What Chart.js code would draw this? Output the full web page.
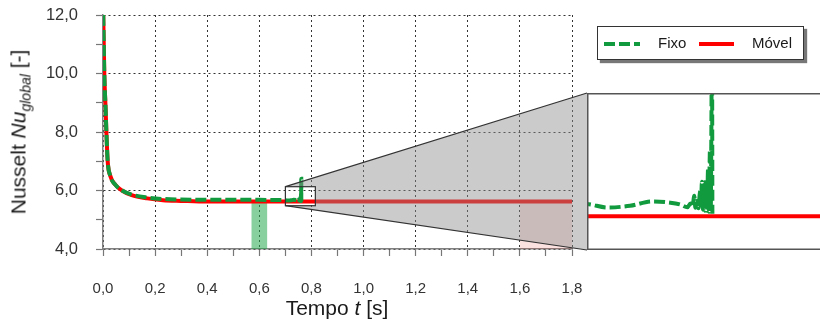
<!DOCTYPE html>
<html>
<head>
<meta charset="utf-8">
<script src="https://cdn.jsdelivr.net/npm/chart.js@4"></script>
<style>
    html, body { margin: 0; padding: 0; background: #fff; overflow: hidden; }
    #wrap { position: relative; width: 820px; height: 324px; overflow: hidden;
            font-family: "Liberation Sans", Arial, sans-serif; color: #1a1a1a; }
    #main { position: absolute; left: 0; top: 0; }
    #inset { position: absolute; left: 587px; top: 93px; }
    .ytitle { position: absolute; left: 20px; top: 132px; line-height: 1;
              transform: translate(-50%, -50%) rotate(-90deg); font-size: 21px; white-space: nowrap; }
    .xtitle { position: absolute; left: 337px; top: 307px; line-height: 1;
              transform: translate(-50%, -50%); font-size: 21px; white-space: nowrap; }
    .ytitle sub { font-size: 14px; vertical-align: -5px; }
    .legend { position: absolute; left: 597px; top: 26px; width: 205px; height: 32px;
              border: 1px solid #333; background: #fff; box-shadow: 3px 3px 1px #777; font-size: 15px; }
    .legend svg { position: absolute; top: 14px; }
    .legend span { position: absolute; top: 8px; line-height: 1; }
</style>
</head>
<body>
<div id="wrap">
    <canvas id="main" width="820" height="324"></canvas>
    <canvas id="inset" width="236" height="157"></canvas>
    <div class="ytitle">Nusselt <i>Nu</i><sub><i>global</i></sub> [-]</div>
    <div class="xtitle">Tempo <i>t</i> [s]</div>
    <div class="legend">
        <svg style="left:6px" width="36" height="6"><line x1="0" y1="3" x2="36" y2="3" stroke="#129a3e" stroke-width="4" stroke-dasharray="11,4"/></svg>
        <span style="left:60px">Fixo</span>
        <svg style="left:101px" width="35" height="6"><line x1="0" y1="3" x2="35" y2="3" stroke="#ff0000" stroke-width="4"/></svg>
        <span style="left:154px">Móvel</span>
    </div>
</div>
<script>
// Fixo (fixed) - time [s] and global Nusselt
const fixoT = [0.001, 0.005, 0.010, 0.013, 0.018, 0.028, 0.047, 0.073, 0.11, 0.17, 0.23, 0.30, 0.40, 0.50, 0.60, 0.66,
    0.700, 0.7098, 0.721, 0.7318, 0.7406, 0.7455, 0.7489, 0.7504, 0.7514, 0.7523, 0.7528, 0.7538, 0.7543, 0.7551,
    0.7555, 0.7560, 0.7565, 0.7570, 0.7575, 0.7580, 0.7585, 0.7590, 0.7594, 0.7599, 0.7603, 0.7606, 0.7609, 0.7611];
const fixoNu = [12.0, 10.0, 8.8, 8.0, 7.0, 6.5, 6.2, 6.0, 5.86, 5.76, 5.71, 5.69, 5.68, 5.68, 5.68, 5.675,
    5.670, 5.656, 5.663, 5.681, 5.676, 5.668, 5.657, 5.672, 5.661, 5.705, 5.655, 5.693, 5.653, 5.722,
    5.651, 5.763, 5.647, 5.743, 5.643, 5.776, 5.643, 5.818, 5.638, 5.893, 5.638, 5.976, 6.40, 5.63];

// Movel (moving)
const movelT = [0.001, 0.005, 0.010, 0.013, 0.018, 0.028, 0.047, 0.073, 0.11, 0.17, 0.23, 0.30, 0.40, 1.80];
const movelNu = [12.0, 10.0, 8.8, 8.0, 7.0, 6.5, 6.2, 6.0, 5.84, 5.73, 5.67, 5.645, 5.62, 5.62];

// axes
const xRange = [0, 1.8];
const yRange = [4, 12];

// zoom window shown in the inset, and the highlighted intervals
const zoomT = [0.70, 0.815];
const zoomNu = [5.48, 6.13];
const bandFixoT = [0.57, 0.63];
const bandMovelT = [1.60, 1.80];
const bandTop = 5.60;

const GREEN = '#129a3e';
const RED = '#ff0000';
const INSET = { left: 587, top: 93, bottom: 250 };

const pts = (t, v) => t.map((x, i) => ({ x, y: v[i] }));
const fmt = v => v.toFixed(1).replace('.', ',');
const majorX = v => Math.round(v * 10) % 2 === 0;
const majorY = v => Math.round(v) % 2 === 0;
const noPad = s => { s.paddingTop = 0; s.paddingBottom = 0; s.paddingLeft = 0; s.paddingRight = 0; };

function makeDatasets(clip) {
    return [
        { label: 'Fixo', data: pts(fixoT, fixoNu), borderColor: GREEN, borderWidth: 4, borderDash: [11, 4],
          pointRadius: 0, cubicInterpolationMode: 'monotone', fill: false, clip },
        { label: 'Móvel', data: pts(movelT, movelNu), borderColor: RED, borderWidth: 4,
          pointRadius: 0, cubicInterpolationMode: 'monotone', fill: false, clip }
    ];
}

// bands, zoom rectangle and the gray projection to the inset
const zoomMarks = {
    id: 'zoomMarks',
    beforeDatasetsDraw(chart) {
        const { ctx, scales: { x, y } } = chart;
        ctx.save();
        ctx.fillStyle = 'rgba(40,170,80,0.55)';
        ctx.fillRect(x.getPixelForValue(bandFixoT[0]), y.getPixelForValue(bandTop),
            x.getPixelForValue(bandFixoT[1]) - x.getPixelForValue(bandFixoT[0]),
            y.getPixelForValue(yRange[0]) - y.getPixelForValue(bandTop));
        ctx.fillStyle = 'rgba(240,80,80,0.17)';
        ctx.fillRect(x.getPixelForValue(bandMovelT[0]), y.getPixelForValue(bandTop),
            x.getPixelForValue(bandMovelT[1]) - x.getPixelForValue(bandMovelT[0]),
            y.getPixelForValue(yRange[0]) - y.getPixelForValue(bandTop));
        ctx.restore();
    },
    afterDatasetsDraw(chart) {
        const { ctx, scales: { x, y } } = chart;
        const x0 = x.getPixelForValue(zoomT[0]), x1 = x.getPixelForValue(zoomT[1]);
        const y0 = y.getPixelForValue(zoomNu[1]), y1 = y.getPixelForValue(zoomNu[0]);
        ctx.save();
        ctx.beginPath();
        ctx.moveTo(x0, y0);
        ctx.lineTo(INSET.left, INSET.top);
        ctx.lineTo(INSET.left, INSET.bottom);
        ctx.lineTo(x0, y1);
        ctx.closePath();
        ctx.rect(x0, y0, x1 - x0, y1 - y0);
        ctx.fillStyle = 'rgba(140,140,140,0.45)';
        ctx.fill('evenodd');
        ctx.strokeStyle = '#333';
        ctx.lineWidth = 1.2;
        ctx.beginPath();
        ctx.moveTo(x0, y0); ctx.lineTo(INSET.left, INSET.top);
        ctx.moveTo(x0, y1); ctx.lineTo(INSET.left, INSET.bottom);
        ctx.stroke();
        ctx.strokeRect(x0, y0, x1 - x0, y1 - y0);
        ctx.restore();
    }
};

const insetFrame = {
    id: 'insetFrame',
    afterDraw(chart) {
        const { ctx, chartArea: a } = chart;
        ctx.save();
        ctx.strokeStyle = '#555';
        ctx.lineWidth = 1.5;
        ctx.strokeRect(a.left + 0.75, a.top + 0.75, a.right - a.left, a.bottom - a.top - 1.5);
        ctx.restore();
    }
};

Chart.defaults.font.family = '"Liberation Sans", Arial, sans-serif';

new Chart(document.getElementById('main'), {
    type: 'line',
    data: { datasets: makeDatasets(undefined) },
    options: {
        responsive: false,
        animation: false,
        events: [],
        layout: { padding: { left: 0, top: 15, right: 248, bottom: 0 } },
        plugins: { legend: { display: false }, tooltip: { enabled: false } },
        scales: {
            x: {
                type: 'linear', min: xRange[0], max: xRange[1],
                afterFit: s => { s.height = 75; noPad(s); },
                ticks: { stepSize: 0.1, autoSkip: false, maxRotation: 0, padding: 24, color: '#333',
                         font: { size: 15 }, callback: v => majorX(v) ? fmt(v) : '' },
                grid: { color: c => (c.tick && majorX(c.tick.value)) ? '#333' : 'rgba(0,0,0,0)',
                        lineWidth: 1, tickLength: 7, tickColor: '#777', tickWidth: 1.2 },
                border: { color: '#808080', width: 1.5, dash: [2, 3] }
            },
            y: {
                type: 'linear', min: yRange[0], max: yRange[1],
                afterFit: s => { s.width = 103; noPad(s); },
                ticks: { stepSize: 1, autoSkip: false, padding: 18, color: '#333',
                         font: { size: 16.5 }, callback: v => majorY(v) ? fmt(v) : '' },
                grid: { color: c => (c.tick && majorY(c.tick.value)) ? '#333' : 'rgba(0,0,0,0)',
                        lineWidth: 1, tickLength: 7, tickColor: '#777', tickWidth: 1.2 },
                border: { color: '#808080', width: 1.5, dash: [2, 3] }
            }
        }
    },
    plugins: [zoomMarks]
});

new Chart(document.getElementById('inset'), {
    type: 'line',
    data: { datasets: makeDatasets(0) },
    options: {
        responsive: false,
        animation: false,
        events: [],
        layout: { padding: 0 },
        plugins: { legend: { display: false }, tooltip: { enabled: false } },
        scales: {
            x: { type: 'linear', display: false, min: zoomT[0], max: zoomT[1] },
            y: { type: 'linear', display: false, min: zoomNu[0], max: zoomNu[1] }
        }
    },
    plugins: [insetFrame]
});
</script>
</body>
</html>
